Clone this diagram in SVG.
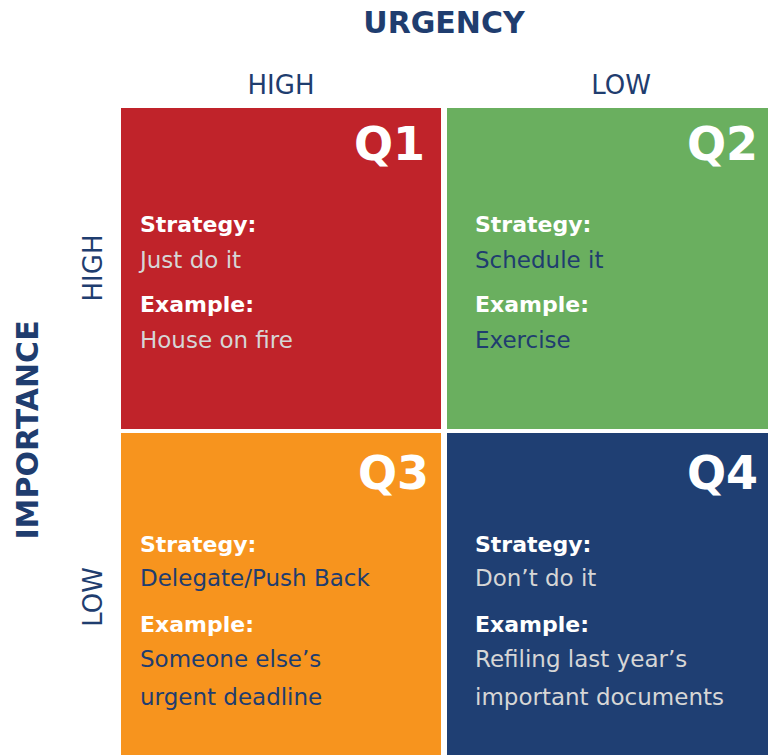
<svg xmlns="http://www.w3.org/2000/svg" width="768" height="755" viewBox="0 0 768 755">
<style>
text{font-family:"DejaVu Sans","Open Sans",sans-serif}
.ax{fill:#1F3D6F;font-size:26px}
.axb{fill:#1F3D6F;font-size:30px;font-weight:bold}
.q{fill:#fff;font-size:46px;font-weight:bold}
.lbl{fill:#fff;font-size:22px;font-weight:bold}
.lt{fill:#D6D6D6;font-size:23px}
.dk{fill:#1F3D6F;font-size:23px}
</style>
<rect width="768" height="755" fill="#fff"/>
<text class="axb" x="444" y="33" text-anchor="middle">URGENCY</text>
<text class="ax" x="281" y="94" text-anchor="middle">HIGH</text>
<text class="ax" x="621" y="94" text-anchor="middle">LOW</text>
<text class="axb" transform="translate(38,430) rotate(-90)" text-anchor="middle">IMPORTANCE</text>
<text class="ax" transform="translate(102,268) rotate(-90)" text-anchor="middle">HIGH</text>
<text class="ax" transform="translate(102,597) rotate(-90)" text-anchor="middle">LOW</text>
<g id="q1"><rect x="121" y="108" width="320" height="321" fill="#C0232A"/>
<text class="q" x="425" y="160" text-anchor="end">Q1</text>
<text class="lbl" x="140" y="232">Strategy:</text><text class="lt" x="140" y="268">Just do it</text>
<text class="lbl" x="140" y="312">Example:</text><text class="lt" x="140" y="348">House on fire</text></g>
<g id="q2"><rect x="447" y="108" width="321" height="321" fill="#6AAF5F"/>
<text class="q" x="758" y="160" text-anchor="end">Q2</text>
<text class="lbl" x="475" y="232">Strategy:</text><text class="dk" x="475" y="268">Schedule it</text>
<text class="lbl" x="475" y="312">Example:</text><text class="dk" x="475" y="348">Exercise</text></g>
<g id="q3"><rect x="121" y="433" width="320" height="322" fill="#F7941E"/>
<text class="q" x="429" y="489" text-anchor="end">Q3</text>
<text class="lbl" x="140" y="552">Strategy:</text><text class="dk" x="140" y="586">Delegate/Push Back</text>
<text class="lbl" x="140" y="632">Example:</text><text class="dk" x="140" y="667">Someone else’s</text><text class="dk" x="140" y="705">urgent deadline</text></g>
<g id="q4"><rect x="447" y="433" width="321" height="322" fill="#1F3F73"/>
<text class="q" x="758" y="489" text-anchor="end">Q4</text>
<text class="lbl" x="475" y="552">Strategy:</text><text class="lt" x="475" y="586">Don’t do it</text>
<text class="lbl" x="475" y="632">Example:</text><text class="lt" x="475" y="667">Refiling last year’s</text><text class="lt" x="475" y="705">important documents</text></g>
<g id="connectors"/>
</svg>
